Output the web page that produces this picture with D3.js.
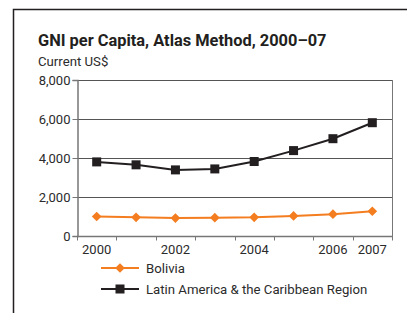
<!DOCTYPE html>
<html lang="en">
<head>
<meta charset="UTF-8">
<script src="https://d3js.org/d3.v7.min.js"></script>
<style>
  html, body { margin: 0; padding: 0; background: #fff; }
  svg text { font-family: Roboto, sans-serif; fill: #2b2b2b; }
  .title { font-size: 16.4px; font-weight: bold; fill: #231f20; }
  .sub { font-size: 13.2px; }
  .tick text { font-size: 13px; }
  .legend text { font-size: 13.2px; }
</style>
</head>
<body>
<div id="chart"></div>
<script>
// data
var years = ["2000", "2001", "2002", "2003", "2004", "2005", "2006", "2007"];
var shownYears = ["2000", "2002", "2004", "2006", "2007"];
var bolivia = [1000, 960, 920, 940, 960, 1030, 1120, 1270];
var lac = [3800, 3650, 3390, 3440, 3820, 4380, 4990, 5810];
var yTicks = [0, 2000, 4000, 6000, 8000];

var W = 407, H = 313;
var mLeft = 77, mRight = 392, mTop = 80, mBottom = 236;

var svg = d3.select("#chart").append("svg")
  .attr("width", W)
  .attr("height", H);

// outer frame (open on the right and bottom)
svg.append("path")
  .attr("d", "M13.5," + H + "V9.5H" + W)
  .attr("fill", "none")
  .attr("stroke", "#231f20")
  .attr("stroke-width", 1.5);

svg.append("text").attr("class", "title")
  .attr("x", 38).attr("y", 46)
  .text("GNI per Capita, Atlas Method, 2000\u201307");
svg.append("text").attr("class", "sub")
  .attr("x", 38).attr("y", 66)
  .text("Current US$");

var x = d3.scaleBand().domain(years).range([mLeft, mRight]);
var y = d3.scaleLinear().domain([0, 8000]).range([mBottom, mTop]);

// gridlines
svg.append("g").selectAll("line")
  .data(yTicks.slice(1))
  .enter().append("line")
  .attr("x1", mLeft).attr("x2", mRight)
  .attr("y1", function(d) { return Math.round(y(d)) + 0.5; })
  .attr("y2", function(d) { return Math.round(y(d)) + 0.5; })
  .attr("stroke", "#555")
  .attr("stroke-width", 1);

// right border of plot
svg.append("line")
  .attr("x1", mRight + 0.5).attr("x2", mRight + 0.5)
  .attr("y1", mTop).attr("y2", mBottom + 4)
  .attr("stroke", "#777").attr("stroke-width", 1);

// y axis
var yAxis = svg.append("g")
  .attr("transform", "translate(" + (mLeft + 0.5) + ",0)")
  .call(d3.axisLeft(y).tickValues(yTicks).tickSize(5).tickPadding(2)
    .tickFormat(d3.format(",")));
yAxis.attr("font-family", null).attr("font-size", null);
yAxis.select(".domain").attr("stroke", "#777").attr("stroke-width", 1.5);
yAxis.selectAll(".tick line").attr("stroke", "#777");

// x axis: ticks at band edges, labels at band centres
var xAxis = svg.append("g")
  .attr("transform", "translate(0," + (mBottom + 0.5) + ")");
xAxis.append("line")
  .attr("x1", mLeft).attr("x2", mRight + 1)
  .attr("stroke", "#777").attr("stroke-width", 1.5);
xAxis.selectAll(".xt")
  .data(years.concat(["end"]))
  .enter().append("line")
  .attr("x1", function(d, i) { return Math.round(mLeft + i * x.bandwidth()) + 0.5; })
  .attr("x2", function(d, i) { return Math.round(mLeft + i * x.bandwidth()) + 0.5; })
  .attr("y1", 0).attr("y2", 4)
  .attr("stroke", "#777");
xAxis.append("g").attr("class", "tick").selectAll("text")
  .data(shownYears)
  .enter().append("text")
  .attr("x", function(d) { return x(d) + x.bandwidth() / 2; })
  .attr("y", 17)
  .attr("text-anchor", "middle")
  .text(function(d) { return d; });

var line = d3.line()
  .x(function(d, i) { return x(years[i]) + x.bandwidth() / 2; })
  .y(function(d) { return y(d); });

var orange = "#f47d20", dark = "#231f20";

// Bolivia
svg.append("path").datum(bolivia)
  .attr("d", line).attr("fill", "none")
  .attr("stroke", orange).attr("stroke-width", 2);
svg.selectAll(".dia").data(bolivia).enter().append("path")
  .attr("d", d3.symbol().type(d3.symbolDiamond2).size(60))
  .attr("transform", function(d, i) {
    return "translate(" + (x(years[i]) + x.bandwidth() / 2) + "," + y(d) + ")";
  })
  .attr("fill", orange);

// Latin America
svg.append("path").datum(lac)
  .attr("d", line).attr("fill", "none")
  .attr("stroke", dark).attr("stroke-width", 2);
svg.selectAll(".sq").data(lac).enter().append("rect")
  .attr("x", function(d, i) { return x(years[i]) + x.bandwidth() / 2 - 4.5; })
  .attr("y", function(d) { return y(d) - 4.5; })
  .attr("width", 9).attr("height", 9)
  .attr("fill", dark);

// legend
var legend = svg.append("g").attr("class", "legend");
legend.append("line").attr("x1", 101).attr("x2", 139).attr("y1", 268).attr("y2", 268)
  .attr("stroke", orange).attr("stroke-width", 2);
legend.append("path")
  .attr("d", d3.symbol().type(d3.symbolDiamond2).size(60))
  .attr("transform", "translate(120,268)").attr("fill", orange);
legend.append("text").attr("x", 146).attr("y", 273).text("Bolivia");

legend.append("line").attr("x1", 101).attr("x2", 139).attr("y1", 289).attr("y2", 289)
  .attr("stroke", dark).attr("stroke-width", 2);
legend.append("rect").attr("x", 115.5).attr("y", 284.5).attr("width", 9).attr("height", 9)
  .attr("fill", dark);
legend.append("text").attr("x", 146).attr("y", 294).text("Latin America & the Caribbean Region");
</script>
</body>
</html>
